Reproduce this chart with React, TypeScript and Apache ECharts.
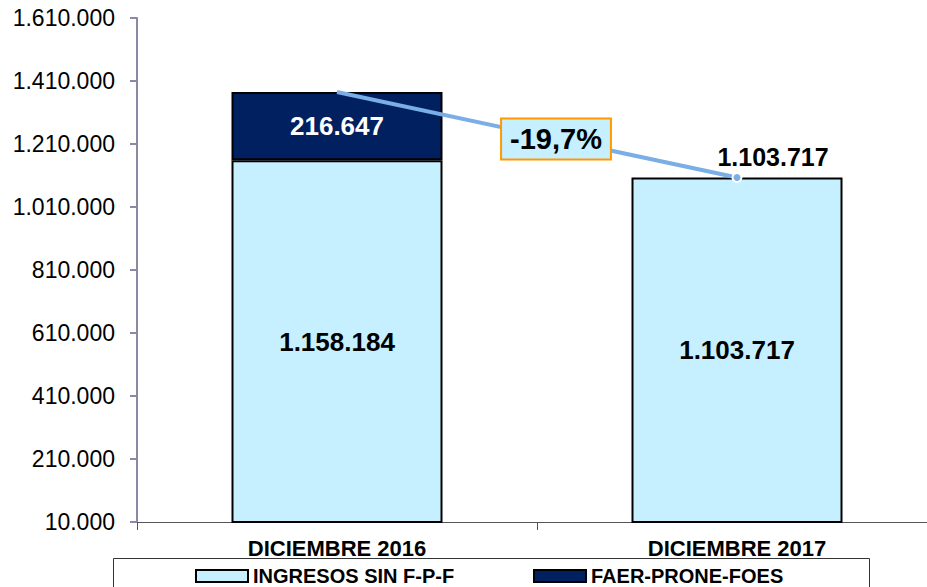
import React, { useEffect, useRef } from "react";
import * as echarts from "echarts";

const categories = ["DICIEMBRE 2016", "DICIEMBRE 2017"];
const ingresosSinFPF = [1158184, 1103717];
const faerProneFoes = [216647, 0];
const totals = [1374831, 1103717];
const yTicks = [10000, 210000, 410000, 610000, 810000, 1010000, 1210000, 1410000, 1610000];
const changeLabel = "-19,7%";
const seriesNames = ["INGRESOS SIN F-P-F", "FAER-PRONE-FOES"];

const FONT = "'Liberation Sans', Arial, sans-serif";

function fmt(v: number): string {
  const s = Math.round(v).toString();
  return s.replace(/\B(?=(\d{3})+(?!\d))/g, ".");
}

export default function App() {
  const ref = useRef<HTMLDivElement>(null);
  useEffect(() => {
    if (!ref.current) return;
    const chart = echarts.init(ref.current, undefined, { renderer: "svg" });
    const option: any = {
      animation: false,
      backgroundColor: "#ffffff",
      textStyle: { fontFamily: FONT },
      grid: { left: 137, top: 18, width: 800, height: 504 },
      xAxis: {
        type: "category",
        data: categories,
        boundaryGap: true,
        axisLine: { show: true, lineStyle: { color: "#555555", width: 1 } },
        axisTick: { show: true, length: 8, lineStyle: { color: "#555555" } },
        axisLabel: {
          color: "#000000",
          fontFamily: FONT,
          fontWeight: "bold",
          fontSize: 22,
          margin: 15,
        },
        splitLine: { show: false },
      },
      yAxis: {
        type: "value",
        min: 10000,
        max: 1610000,
        axisLine: { show: true, lineStyle: { color: "#8a8aa6", width: 2 } },
        axisTick: {
          show: true,
          length: 7,
          customValues: yTicks,
          lineStyle: { color: "#8a8aa6", width: 2 },
        },
        axisLabel: {
          customValues: yTicks,
          color: "#000000",
          fontFamily: FONT,
          fontSize: 23,
          margin: 22,
          formatter: (v: number) => fmt(v),
        },
        splitLine: { show: false },
      },
      legend: [
        {
          data: [seriesNames[0]],
          left: 195,
          top: 566,
          itemWidth: 52,
          itemHeight: 12,
          icon: "rect",
          textStyle: { fontFamily: FONT, fontWeight: "bold", fontSize: 20, color: "#000" },
          padding: 0,
        },
        {
          data: [seriesNames[1]],
          left: 533,
          top: 566,
          itemWidth: 52,
          itemHeight: 12,
          icon: "rect",
          textStyle: { fontFamily: FONT, fontWeight: "bold", fontSize: 20, color: "#000" },
          padding: 0,
        },
      ],
      graphic: [
        {
          type: "rect",
          shape: { x: 113.5, y: 558.5, width: 756, height: 40 },
          style: { fill: "none", stroke: "#333333", lineWidth: 1 },
          z: 0,
        },
        {
          type: "text",
          x: 556,
          y: 139,
          z: 100,
          style: {
            text: changeLabel,
            fontFamily: FONT,
            fontWeight: "bold",
            fontSize: 29,
            fill: "#000000",
            align: "center",
            verticalAlign: "middle",
            backgroundColor: "#c6efff",
            borderColor: "#ff9900",
            borderWidth: 2,
            padding: [6, 8, 4, 8],
          },
        },
      ],
      series: [
        {
          name: seriesNames[0],
          type: "bar",
          stack: "total",
          barWidth: 211,
          data: ingresosSinFPF,
          itemStyle: { color: "#c6efff", borderColor: "#000000", borderWidth: 2 },
          label: {
            show: true,
            position: "inside",
            color: "#000000",
            fontFamily: FONT,
            fontWeight: "bold",
            fontSize: 26,
            formatter: (p: any) => fmt(p.value),
          },
        },
        {
          name: seriesNames[1],
          type: "bar",
          stack: "total",
          barWidth: 211,
          data: faerProneFoes.map((v) => (v === 0 ? null : v)),
          itemStyle: { color: "#002060", borderColor: "#000000", borderWidth: 2 },
          label: {
            show: true,
            position: "inside",
            color: "#ffffff",
            fontFamily: FONT,
            fontWeight: "bold",
            fontSize: 26,
            formatter: (p: any) => fmt(p.value),
          },
        },
        {
          name: "TOTAL",
          type: "line",
          z: 10,
          data: totals.map((v, i) =>
            i === 0
              ? { value: v, symbol: "none" }
              : {
                  value: v,
                  symbol: "circle",
                  symbolSize: 9,
                  itemStyle: { color: "#7aaee6", borderColor: "#ffffff", borderWidth: 2 },
                  label: { offset: [36, 3] },
                }
          ),
          lineStyle: { color: "#7aaee6", width: 4 },
          itemStyle: { color: "#7aaee6" },
          label: {
            show: true,
            position: "top",
            offset: [35, -3],
            color: "#000000",
            fontFamily: FONT,
            fontWeight: "bold",
            fontSize: 25,
            formatter: (p: any) => fmt(p.value),
          },
        },
      ],
    };
    chart.setOption(option);
    return () => chart.dispose();
  }, []);
  return (
    <div
      style={{
        position: "fixed",
        left: 0,
        top: 0,
        width: 927,
        height: 587,
        overflow: "hidden",
        background: "#fff",
      }}
    >
      <div ref={ref} style={{ width: 960, height: 587 }} />
    </div>
  );
}
